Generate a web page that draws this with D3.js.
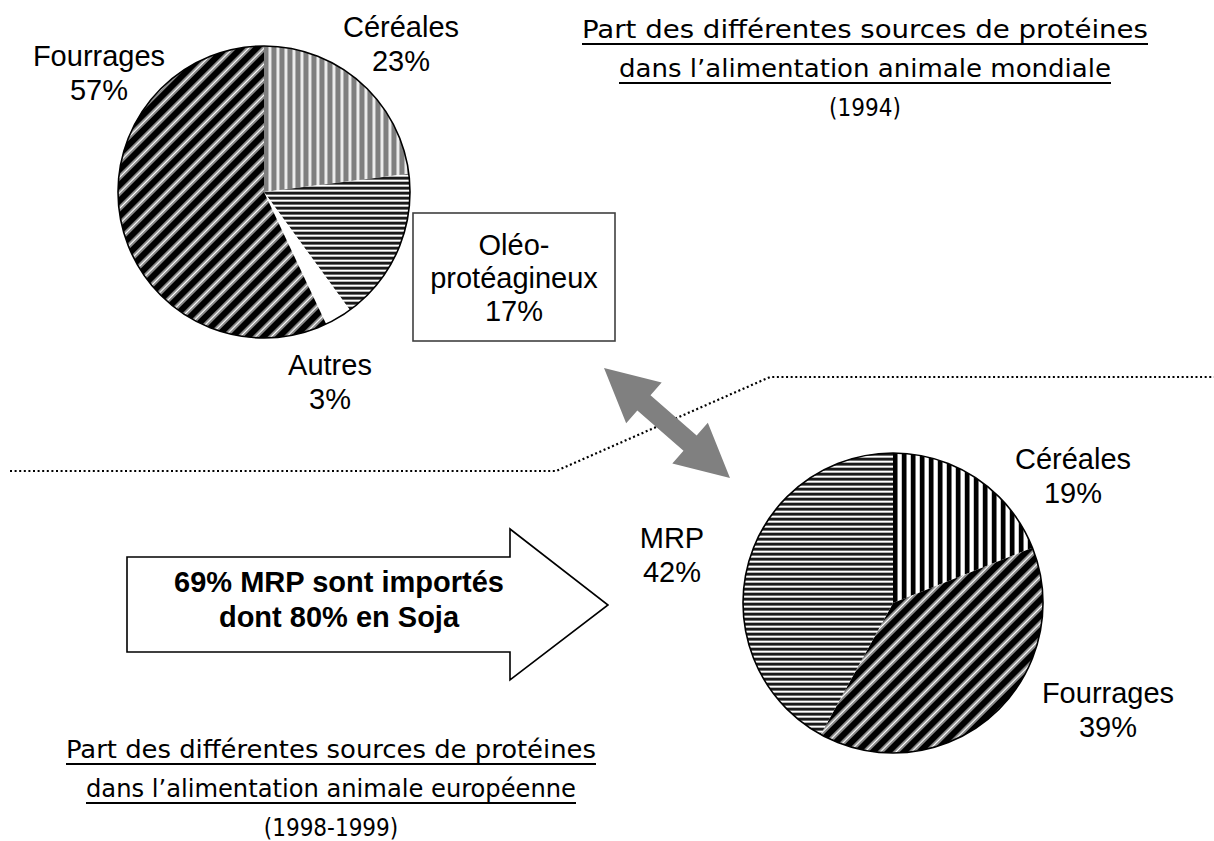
<!DOCTYPE html>
<html><head><meta charset="utf-8">
<script src="https://cdn.jsdelivr.net/npm/d3@7"></script>
<style>html,body{margin:0;padding:0;background:#fff;} svg{display:block}</style>
</head><body><div id="chart"></div>
<script>
// ---------- data ----------
const worldCategories = ["Céréales", "Oléo-protéagineux", "Autres", "Fourrages"];
const worldValues = [23, 17, 3, 57];
const europeCategories = ["Céréales", "Fourrages", "MRP"];
const europeValues = [19, 39, 42];
const worldTitle = ["Part des différentes sources de protéines", "dans l\u2019alimentation animale mondiale", "(1994)"];
const europeTitle = ["Part des différentes sources de protéines", "dans l\u2019alimentation animale européenne", "(1998-1999)"];
const arrowLines = ["69% MRP sont importés", "dont 80% en Soja"];

// ---------- layout ----------
const W = 1214, H = 841;
const svg = d3.select("#chart").append("svg").attr("width", W).attr("height", H);
svg.append("rect").attr("width", W).attr("height", H).attr("fill", "#fff");
const defs = svg.append("defs");

function pattern(id, w, h, rects, transform) {
  const p = defs.append("pattern").attr("id", id).attr("patternUnits", "userSpaceOnUse")
    .attr("width", w).attr("height", h);
  if (transform) p.attr("patternTransform", transform);
  rects.forEach(r => p.append("rect").attr("x", r[0]).attr("y", r[1]).attr("width", r[2]).attr("height", r[3]).attr("fill", r[4]));
}
pattern("grayVert", 8, 8, [[0,0,8,8,"#7f7f7f"],[4,0,1,8,"#b8b8b8"],[5,0,2,8,"#ececec"],[7,0,1,8,"#b0b0b0"]]);
pattern("hStripe", 10, 5, [[0,0,10,5,"#ffffff"],[0,0,10,2,"#1a1a1a"],[0,2,10,1,"#6e6e6e"],[0,4,10,1,"#b4b4b4"]]);
pattern("bwVert", 9, 9, [[0,0,9,9,"#ffffff"],[0,0,4,9,"#000000"],[4,0,1,9,"#7a7a7a"],[8,0,1,9,"#c8c8c8"]]);
pattern("diag", 11, 11, [[0,0,11,11,"#000000"],[6,0,1.5,11,"#7a7a7a"],[7.5,0,2,11,"#ffffff"],[9.5,0,1.5,11,"#8a8a8a"]], "rotate(45)");

const fillWorld = {"Céréales": "url(#grayVert)", "Oléo-protéagineux": "url(#hStripe)", "Autres": "#ffffff", "Fourrages": "url(#diag)"};
const fillEurope = {"Céréales": "url(#bwVert)", "Fourrages": "url(#diag)", "MRP": "url(#hStripe)"};

const pieGen = d3.pie().sort(null).value(d => d.v);

function drawPie(cx, cy, r, cats, vals, fills) {
  const data = cats.map((c, i) => ({c, v: vals[i]}));
  const arc = d3.arc().innerRadius(0).outerRadius(r);
  const g = svg.append("g").attr("transform", `translate(${cx},${cy})`);
  g.selectAll("path").data(pieGen(data)).join("path")
    .attr("d", arc).attr("fill", d => fills[d.data.c]);
  g.append("circle").attr("r", r).attr("fill", "none").attr("stroke", "#000").attr("stroke-width", 1.6);
}
drawPie(264, 192, 146, worldCategories, worldValues, fillWorld);
drawPie(893, 603, 150, europeCategories, europeValues, fillEurope);

// ---------- labels ----------
const lblFont = "'Liberation Sans', Arial, sans-serif";
function label(x, y, lines, opts = {}) {
  const t = svg.append("text").attr("text-anchor", "middle")
    .attr("font-family", lblFont).attr("font-size", opts.size || 29)
    .attr("font-weight", opts.weight || "normal").attr("fill", "#000");
  lines.forEach((s, i) => t.append("tspan").attr("x", x).attr("y", y + i * (opts.lh || 34)).text(s));
}
const pct = v => v + "%";

// world pie labels
label(401, 37, [worldCategories[0], pct(worldValues[0])]);
label(99, 66, [worldCategories[3], pct(worldValues[3])]);
label(330, 375, [worldCategories[2], pct(worldValues[2])]);
svg.append("rect").attr("x", 413).attr("y", 213).attr("width", 202).attr("height", 128)
  .attr("fill", "#fff").attr("stroke", "#404040").attr("stroke-width", 1.6);
label(514, 255, ["Oléo-", "protéagineux", pct(worldValues[1])], {lh: 33});

// europe pie labels
label(1073, 469, [europeCategories[0], pct(europeValues[0])]);
label(672, 548, [europeCategories[2], pct(europeValues[2])]);
label(1108, 703, [europeCategories[1], pct(europeValues[1])]);

// ---------- dotted separator ----------
svg.append("path")
  .attr("d", d3.line()([[10, 471], [556, 471], [770, 377], [1214, 377]]))
  .attr("fill", "none").attr("stroke", "#000").attr("stroke-width", 2.2)
  .attr("stroke-dasharray", "2,2.6");

// ---------- double arrow ----------
(function () {
  const a = [604, 368], b = [730, 478];
  const L = Math.hypot(b[0] - a[0], b[1] - a[1]);
  const ang = Math.atan2(b[1] - a[1], b[0] - a[0]) * 180 / Math.PI;
  const hl = 53, hw = 27, sw = 10;
  const pts = [[0,0],[hl,-hw],[hl,-sw],[L-hl,-sw],[L-hl,-hw],[L,0],[L-hl,hw],[L-hl,sw],[hl,sw],[hl,hw]];
  svg.append("path").attr("d", d3.line()(pts) + "Z")
    .attr("transform", `translate(${a[0]},${a[1]}) rotate(${ang})`)
    .attr("fill", "#808080");
})();

// ---------- big arrow ----------
(function () {
  const x0 = 127, x1 = 510, tip = 608, yT = 557, yB = 652, hT = 529, hB = 680, yc = 605;
  const pts = [[x0,yT],[x1,yT],[x1,hT],[tip,yc],[x1,hB],[x1,yB],[x0,yB]];
  svg.append("path").attr("d", d3.line()(pts) + "Z")
    .attr("fill", "#fff").attr("stroke", "#000").attr("stroke-width", 1.6).attr("stroke-linejoin", "miter");
  label(339, 592, arrowLines, {size: 29, weight: "bold", lh: 35});
})();

// ---------- titles ----------
const titleFont = "'DejaVu Sans Condensed', 'DejaVu Sans', sans-serif";
function title(cx, y0, lines, lens) {
  lines.forEach((s, i) => {
    const y = y0 + i * 39;
    const t = svg.append("text").attr("x", cx).attr("y", y).attr("text-anchor", "middle")
      .attr("font-family", titleFont).attr("font-size", 24).attr("fill", "#000").text(s);
    if (lens[i]) t.attr("textLength", lens[i]).attr("lengthAdjust", "spacingAndGlyphs");
    if (i < 2) {
      svg.append("line").attr("x1", cx - lens[i] / 2).attr("x2", cx + lens[i] / 2)
        .attr("y1", y + 6).attr("y2", y + 6).attr("stroke", "#000").attr("stroke-width", 2);
    }
  });
}
title(865, 38, worldTitle, [566, 492, null]);
title(331, 758, europeTitle, [530, 490, null]);
</script>
</body></html>
